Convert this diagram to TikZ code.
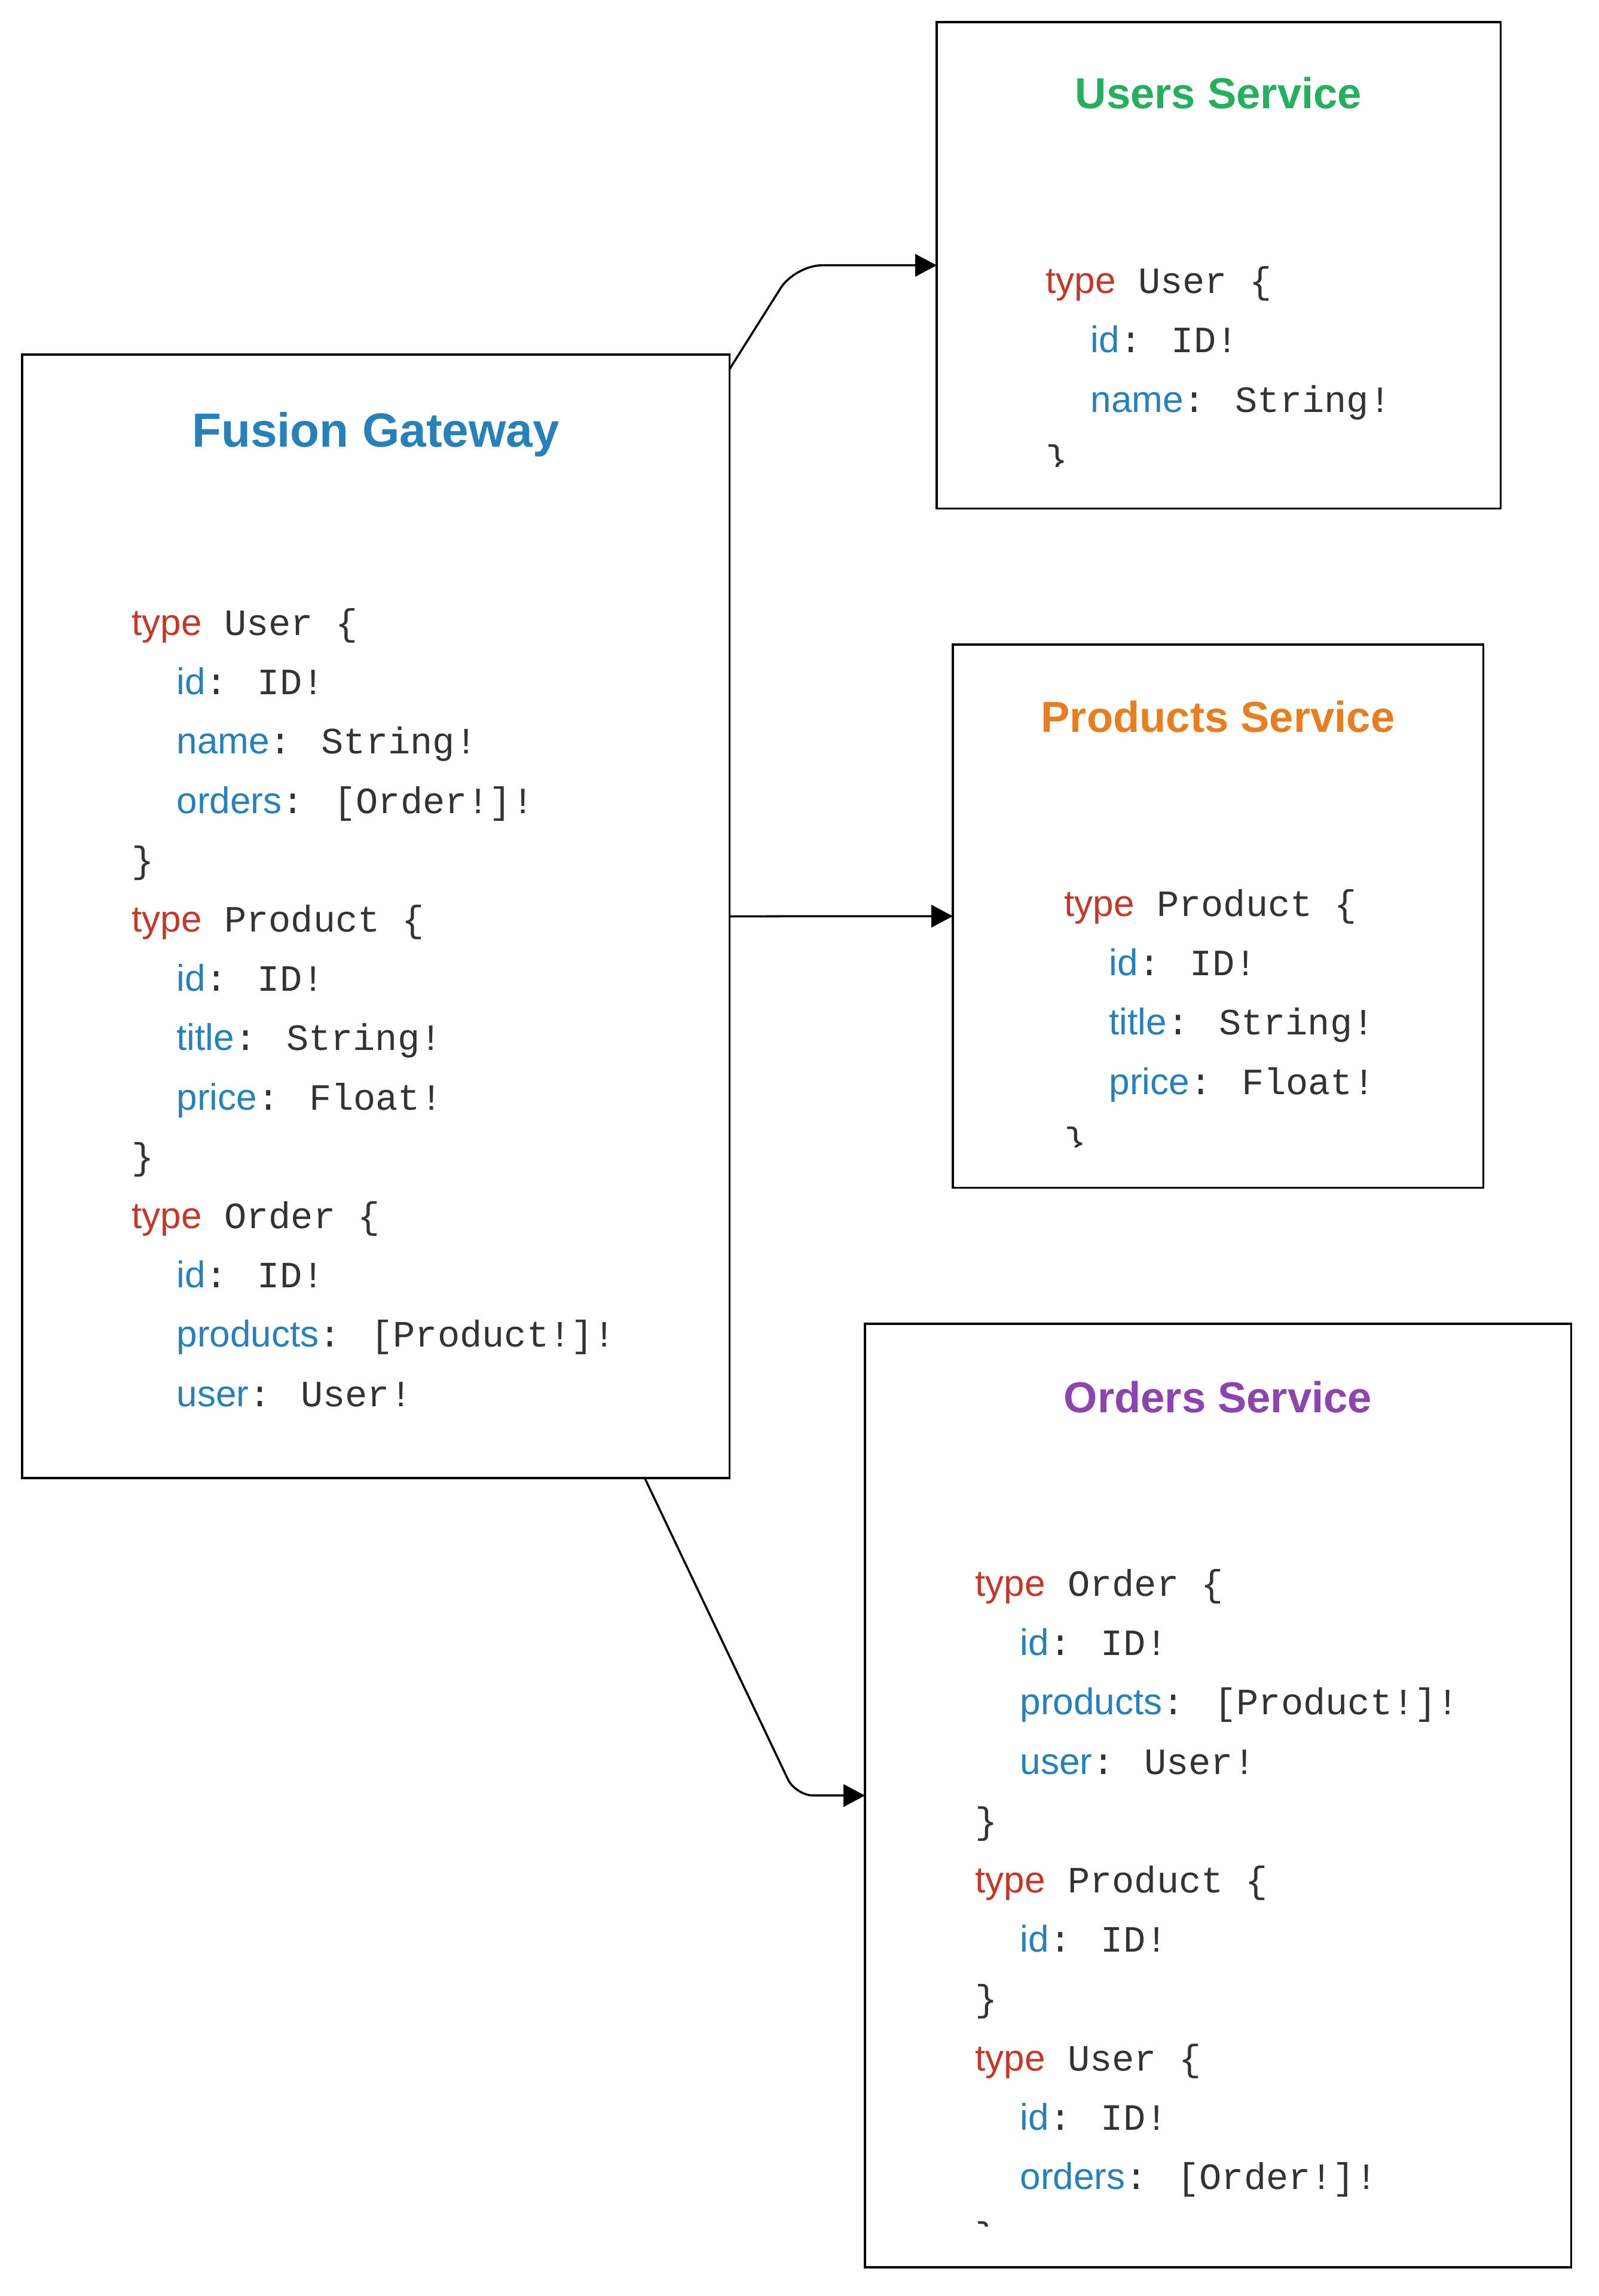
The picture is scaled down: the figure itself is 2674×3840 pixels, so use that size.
\documentclass[tikz,border=0pt]{standalone}
\usepackage{fontspec}
\usetikzlibrary{arrows.meta,calc}
\newfontfamily\gqsans{Liberation Sans}
\newfontfamily\gqmono{Liberation Mono}
\definecolor{gqred}{HTML}{C0392B}
\definecolor{gqblue}{HTML}{2980B9}
\definecolor{gqgreen}{HTML}{27AE60}
\definecolor{gqorange}{HTML}{E67E22}
\definecolor{gqpurple}{HTML}{8E44AD}
\definecolor{gqtext}{HTML}{333333}
\newcommand\gqT{{\gqsans\color{gqred}type}}
\newcommand\gqF[1]{{\gqsans\color{gqblue}#1}}
\begin{document}
\begin{tikzpicture}[x=0.01cm,y=-0.01cm,
  box/.style={draw=black, line width=1pt, rectangle, inner sep=0pt, outer sep=0pt, anchor=north west},
  bigtitle/.style={anchor=base, inner sep=0pt, font=\gqsans\bfseries\fontsize{22.8pt}{26pt}\selectfont, text=gqblue},
  svctitle/.style={anchor=base, inner sep=0pt, font=\gqsans\bfseries\fontsize{20.6pt}{24pt}\selectfont},
  code/.style={anchor=base west, inner sep=0pt, font=\gqmono\fontsize{17.64pt}{20pt}\selectfont, text=gqtext},
  conn/.style={draw=black, line width=1pt, -{Triangle[length=10.2pt,width=10.6pt]}}
]
\fill[white] (0,0) rectangle (2674,3840);
\useasboundingbox (0,0) rectangle (2674,3840);

% boxes
\node[box, minimum width=11.83cm, minimum height=18.78cm] (gw) at (37,593) {};
\node[box, minimum width=9.43cm, minimum height=8.13cm] (us) at (1567,37) {};
\node[box, minimum width=8.87cm, minimum height=9.08cm] (pr) at (1594,1078) {};
\node[box, minimum width=11.81cm, minimum height=15.77cm] (od) at (1447,2214) {};

% titles
\node[bigtitle] (gwT) at (628.5,748) {Fusion Gateway};
\node[svctitle, text=gqgreen] (usT) at (2038.5,182) {Users Service};
\node[svctitle, text=gqorange] (prT) at (2037.5,1224) {Products Service};
\node[svctitle, text=gqpurple] (odT) at (2037.5,2362) {Orders Service};

% gateway schema
\begin{scope}
\clip (37,593) rectangle (1220,2402);
\node[code] (gw1) at (220,1062) {\gqT{} User \{};
\node[code] (gw2) at (295,1161) {\gqF{id}: ID!};
\node[code] (gw3) at (295,1260) {\gqF{name}: String!};
\node[code] (gw4) at (295,1360) {\gqF{orders}: [Order!]!};
\node[code] (gw5) at (220,1459) {\}};
\node[code] (gw6) at (220,1558) {\gqT{} Product \{};
\node[code] (gw7) at (295,1657) {\gqF{id}: ID!};
\node[code] (gw8) at (295,1756) {\gqF{title}: String!};
\node[code] (gw9) at (295,1856) {\gqF{price}: Float!};
\node[code] (gw10) at (220,1955) {\}};
\node[code] (gw11) at (220,2054) {\gqT{} Order \{};
\node[code] (gw12) at (295,2153) {\gqF{id}: ID!};
\node[code] (gw13) at (295,2252) {\gqF{products}: [Product!]!};
\node[code] (gw14) at (295,2352) {\gqF{user}: User!};
\end{scope}

% users schema
\begin{scope}
\clip (1567,37) rectangle (2510,781);
\node[code] (us1) at (1749,491) {\gqT{} User \{};
\node[code] (us2) at (1824,590) {\gqF{id}: ID!};
\node[code] (us3) at (1824,690) {\gqF{name}: String!};
\node[code] (us4) at (1749,789) {\}};
\end{scope}

% products schema
\begin{scope}
\clip (1594,1078) rectangle (2481,1918);
\node[code] (pr1) at (1780,1532) {\gqT{} Product \{};
\node[code] (pr2) at (1855,1631) {\gqF{id}: ID!};
\node[code] (pr3) at (1855,1730) {\gqF{title}: String!};
\node[code] (pr4) at (1855,1830) {\gqF{price}: Float!};
\node[code] (pr5) at (1780,1929) {\}};
\end{scope}

% orders schema
\begin{scope}
\clip (1447,2214) rectangle (2628,3723);
\node[code] (od1) at (1631,2669) {\gqT{} Order \{};
\node[code] (od2) at (1706,2768) {\gqF{id}: ID!};
\node[code] (od3) at (1706,2867) {\gqF{products}: [Product!]!};
\node[code] (od4) at (1706,2967) {\gqF{user}: User!};
\node[code] (od5) at (1631,3066) {\}};
\node[code] (od6) at (1631,3165) {\gqT{} Product \{};
\node[code] (od7) at (1706,3264) {\gqF{id}: ID!};
\node[code] (od8) at (1631,3363) {\}};
\node[code] (od9) at (1631,3463) {\gqT{} User \{};
\node[code] (od10) at (1706,3562) {\gqF{id}: ID!};
\node[code] (od11) at (1706,3661) {\gqF{orders}: [Order!]!};
\node[code] (od12) at (1631,3760) {\}};
\end{scope}

% connectors
\draw[conn, rounded corners=0.45cm] ([yshift=-0.24cm]gw.north east) -- (1330,0 |- us.west) -- (us.west);
\draw[conn] (gw.east) -- (pr.west);
\draw[conn, rounded corners=0.3cm] ([xshift=-1.42cm]gw.south east) -- (1331,0 |- od.west) -- (od.west);
\end{tikzpicture}
\end{document}
